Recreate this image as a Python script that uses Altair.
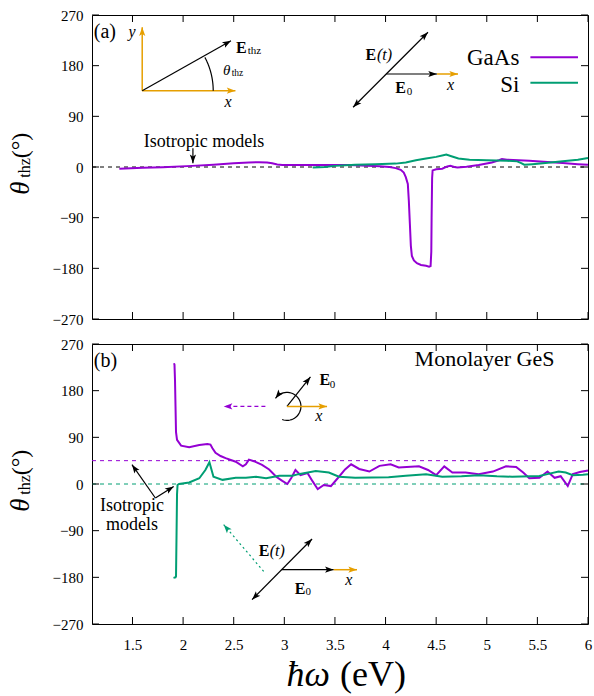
import altair as alt
import numpy as np
import pandas as pd

# ---------------- data ----------------
x_ticks = [1.5, 2.0, 2.5, 3.0, 3.5, 4.0, 4.5, 5.0, 5.5, 6.0]
y_ticks = [-270, -180, -90, 0, 90, 180, 270]

# panel (a): GaAs (purple)
gaas_E = [1.37, 1.6, 1.8, 2.09, 2.3, 2.5, 2.65, 2.75, 2.83, 2.88, 2.93, 2.98, 3.2, 3.44,
          3.64, 3.94, 4.04, 4.1, 4.15, 4.18, 4.2, 4.22, 4.23, 4.24, 4.25, 4.26, 4.28, 4.31,
          4.35, 4.4, 4.43, 4.445, 4.452, 4.455, 4.46, 4.465, 4.5, 4.56, 4.61, 4.64, 4.68,
          4.71, 4.8, 4.92, 5.05, 5.12, 5.15, 5.2, 5.42, 5.6, 5.75, 5.9, 6.0]
gaas_th = [-3, -1.5, -0.5, 2, 4, 6.5, 8, 8.5, 8, 6.5, 4.5, 3.5, 3.5, 3.5,
           3.5, 1.5, 0, -2, -5, -10, -18, -30, -60, -100, -140, -158, -166, -171,
           -174, -175.5, -177, -176, -150, -90, -20, -6, -4, -3, 1, 2, 0,
           -1, 0.5, 3.5, 8, 12, 14, 13, 11, 9, 7, 5, 4]
# panel (a): Si (green)
si_E = [3.28, 3.4, 3.5, 3.7, 3.9, 4.1, 4.2, 4.3, 4.4, 4.5, 4.57, 4.6, 4.65, 4.72, 4.83,
        5.0, 5.2, 5.3, 5.34, 5.37, 5.45, 5.58, 5.75, 5.9, 6.0]
si_th = [-1, 0, 2, 4, 5, 6, 8, 12, 15, 18, 21, 22, 19, 15, 13,
         12, 11, 10, 7, 4, 5, 7, 10, 13, 16]

# panel (b): monolayer GeS, purple curve
gesp_E = [1.91, 1.915, 1.92, 1.925, 1.93, 1.94, 1.98, 2.06, 2.16, 2.24, 2.27, 2.29, 2.32,
          2.37, 2.42, 2.52, 2.59, 2.62, 2.65, 2.7, 2.78, 2.85, 2.92, 2.98, 3.03, 3.07,
          3.11, 3.16, 3.23, 3.28, 3.33, 3.39, 3.46, 3.54, 3.6, 3.66, 3.74, 3.84, 3.94,
          4.05, 4.13, 4.33, 4.42, 4.5, 4.58, 4.66, 4.79, 4.92, 5.06, 5.19, 5.29, 5.36,
          5.42, 5.52, 5.6, 5.67, 5.73, 5.8, 5.85, 5.92, 6.0]
gesp_th = [233, 230, 200, 150, 100, 85, 74, 71, 75, 77, 76, 69, 60,
           54, 50, 43, 34, 38, 47, 44, 37, 28, 14, 6, 0, 12,
           27, 17, 21, 5, -10, -2, -4, 14, 28, 38, 29, 24, 35,
           38, 32, 34, 27, 17, 34, 22, 22, 19, 24, 34, 33, 22,
           11, 12, 24, 12, 15, -4, 19, 23, 26]
# panel (b): monolayer GeS, green curve
gesg_E = [1.905, 1.925, 1.93, 1.935, 1.94, 1.945, 1.96, 2.06, 2.16, 2.22, 2.26, 2.3, 2.39,
          2.52, 2.62, 2.72, 2.82, 2.95, 3.08, 3.14, 3.31, 3.44, 3.54, 3.7, 4.03, 4.2,
          4.4, 4.56, 4.75, 4.92, 5.1, 5.25, 5.52, 5.62, 5.71, 5.78, 5.85, 5.95, 6.0]
gesg_th = [-181, -180, -178, -100, -20, -2, 0, 3, 11, 27, 42, 14, 8,
           12, 12, 14, 11, 16, 16, 19, 25, 22, 14, 12, 13, 16,
           19, 14, 15, 17, 15, 14, 15.5, 20, 24, 22, 17, 18, 19]
iso_purple_b = 45
iso_green_b = 0

# ---------------- style ----------------
PURPLE = "#9400d3"
GREEN = "#009e73"
ORANGE = "#e69f00"
FONT = "Liberation Serif"
W, HA, HB = 496, 304, 280
PXE = W / 4.9
PXT_A = HA / 540.0
PXT_B = HB / 540.0
HEAD = "M0,0L-0.36,1L0,0.78L0.36,1Z"

XS = alt.Scale(domain=[1.1, 6.0], nice=False, zero=False)
YS = alt.Scale(domain=[-270, 270], nice=False, zero=False)

yaxis = alt.Axis(values=y_ticks, format="d", labelFont=FONT, labelFontSize=15,
                 labelColor="black", ticks=False, domain=False, grid=False,
                 labelPadding=9, labelFlush=False, title=None)
xaxis = alt.Axis(values=x_ticks, format="~g", labelFont=FONT, labelFontSize=15,
                 labelColor="black", ticks=False, domain=False, grid=False,
                 labelPadding=13, labelFlush=False, title=None)

CUR = {"x": None, "y": yaxis}


def xe():
    return alt.X("E:Q", scale=XS, axis=CUR["x"])


def ye():
    return alt.Y("th:Q", scale=YS, axis=CUR["y"])


def series(E, th, color, width=2.0):
    df = pd.DataFrame({"E": E, "th": th, "i": list(range(len(E)))})
    return alt.Chart(df).mark_line(color=color, strokeWidth=width).encode(
        x=xe(), y=ye(), order="i:Q")


def hline(val, color, dash, width=1.0, x0=1.1, x1=6.0):
    df = pd.DataFrame({"E": [x0], "E2": [x1], "th": [val]})
    return alt.Chart(df).mark_rule(color=color, strokeDash=dash, strokeWidth=width).encode(
        x=xe(), x2="E2:Q", y=ye())


def text(E, th, s, size, align="center", style="normal", weight="normal", color="black"):
    df = pd.DataFrame({"E": [E], "th": [th], "s": [s]})
    return alt.Chart(df).mark_text(font=FONT, fontSize=size, align=align, baseline="middle",
                                   fontStyle=style, fontWeight=weight, color=color).encode(
        x=xe(), y=ye(), text="s:N")


def heads(pts, color):
    df = pd.DataFrame(pts, columns=["E", "th", "a"])
    return alt.Chart(df).mark_point(shape=HEAD, filled=True, size=300, color=color,
                                    opacity=1, strokeWidth=0).encode(
        x=xe(), y=ye(), angle=alt.Angle("a:Q", scale=None))


def arrow(E0, th0, E1, th1, pxt, color="black", dash=None, both=False, width=1.2):
    df = pd.DataFrame({"E": [E0], "th": [th0], "E2": [E1], "th2": [th1]})
    kw = dict(color=color, strokeWidth=width)
    if dash:
        kw["strokeDash"] = dash
    line = alt.Chart(df).mark_rule(**kw).encode(x=xe(), y=ye(), x2="E2:Q", y2="th2:Q")
    a = (np.degrees(np.arctan2((E1 - E0) * PXE, (th1 - th0) * pxt)) + 360) % 360
    pts = [(E1, th1, a)]
    if both:
        pts.append((E0, th0, (a + 180) % 360))
    return [line, heads(pts, color)]


def arc(Ec, thc, r, a0, a1, pxt, head=False, color="black"):
    ang = np.radians(np.linspace(a0, a1, 40))
    E = Ec + r * np.cos(ang) / PXE
    th = thc + r * np.sin(ang) / pxt
    df = pd.DataFrame({"E": E, "th": th, "i": list(range(len(E)))})
    out = [alt.Chart(df).mark_line(color=color, strokeWidth=1.2).encode(
        x=xe(), y=ye(), order="i:Q")]
    if head:
        dx = (E[-1] - E[-2]) * PXE
        dy = (th[-1] - th[-2]) * pxt
        a = (np.degrees(np.arctan2(dx, dy)) + 360) % 360
        out.append(heads([(E[-1], th[-1], a)], color))
    return out


def ticks(H):
    xt = pd.DataFrame({"E": x_ticks})
    yt = pd.DataFrame({"th": y_ticks})
    L = 7
    kw = dict(color="black", strokeWidth=1)
    return [
        alt.Chart(xt).mark_rule(**kw).encode(x=xe(), y=alt.value(0), y2=alt.value(L)),
        alt.Chart(xt).mark_rule(**kw).encode(x=xe(), y=alt.value(H), y2=alt.value(H - L)),
        alt.Chart(yt).mark_rule(**kw).encode(y=ye(), x=alt.value(0), x2=alt.value(L)),
        alt.Chart(yt).mark_rule(**kw).encode(y=ye(), x=alt.value(W), x2=alt.value(W - L)),
    ]


def ytitle(cy):
    mk = lambda s, size, style, dx, dy: alt.Chart(pd.DataFrame({"s": [s]})).mark_text(
        font=FONT, fontSize=size, fontStyle=style, angle=270, align="center",
        baseline="middle", color="black").encode(
        x=alt.value(dx), y=alt.value(cy + dy), text="s:N")
    return [mk("θ", 27, "italic", -71, 21), mk("thz", 16, "normal", -67, 1),
            mk("(°)", 24, "normal", -71, -21.5)]


# ---------------- panel (a) ----------------
CUR["x"] = None
CUR["y"] = yaxis
la = [hline(0, "black", [4, 4], 1.0)]
la += ticks(HA)
la += [series(gaas_E, gaas_th, PURPLE), series(si_E, si_th, GREEN)]
# inset 1: frame
la += arrow(1.596, 135.5, 1.596, 248.1, PXT_A, ORANGE, width=1.5)
la += arrow(1.596, 135.5, 2.517, 135.5, PXT_A, ORANGE, width=1.5)
la += arrow(1.596, 135.5, 2.473, 224.4, PXT_A, "black")
la += arc(1.596, 135.5, 71, 0, 28, PXT_A)
la += [text(1.117, 240.3, "(a)", 20, "left"),
       text(1.495, 240.3, "y", 16, style="italic"),
       text(2.444, 116, "x", 16, style="italic"),
       text(2.523, 210.8, "E", 16, "left", weight="bold"),
       text(2.638, 206.6, "thz", 11, "left"),
       text(2.394, 172.3, "θ", 15, "left", style="italic"),
       text(2.48, 166.4, "thz", 9.5, "left")]
# isotropic label
la += [text(2.206, 45, "Isotropic models", 18)]
la += arrow(2.097, 33.3, 2.097, 6.6, PXT_A, "black")
# inset 2: E(t)
la += arrow(3.679, 106.1, 4.419, 239.3, PXT_A, "black", both=True)
la += arrow(4.008, 165.2, 4.508, 165.2, PXT_A, "black")
la += arrow(4.508, 165.2, 4.716, 165.2, PXT_A, ORANGE, width=1.5)
la += [text(3.801, 199, "E", 16, "left", weight="bold"),
       text(3.915, 199, "(t)", 16, "left", style="italic"),
       text(4.097, 139.8, "E", 16, "left", weight="bold"),
       text(4.21, 133.9, "0", 11, "left"),
       text(4.641, 145.7, "x", 16, style="italic")]
# legend
la += [text(5.322, 193, "GaAs", 23, "right"), text(5.322, 145.7, "Si", 23, "right"),
       hline(194.9, PURPLE, [1, 0], 2.0, 5.431, 5.901),
       hline(149.8, GREEN, [1, 0], 2.0, 5.431, 5.901)]
la += ytitle(152)

panel_a = alt.layer(*la).properties(width=W, height=HA)

# ---------------- panel (b) ----------------
CUR["x"] = xaxis
CUR["y"] = yaxis
lb = [hline(iso_purple_b, PURPLE, [4, 4], 1.0), hline(iso_green_b, GREEN, [4, 4], 1.0)]
lb += ticks(HB)
lb += [series(gesp_E, gesp_th, PURPLE), series(gesg_E, gesg_th, GREEN)]
lb += [text(1.117, 236.4, "(b)", 20, "left"),
       text(5.669, 241, "Monolayer GeS", 22, "right")]
# circular inset
lb += arrow(2.813, 149.7, 2.401, 149.7, PXT_B, PURPLE, dash=[4, 3])
lb += arc(3.026, 149.7, 14, -110, 145, PXT_B, head=True)
lb += arrow(3.026, 149.7, 3.258, 206.4, PXT_B, "black")
lb += arrow(3.026, 149.7, 3.422, 149.7, PXT_B, ORANGE, width=1.5)
lb += [text(3.347, 199.8, "E", 16, "left", weight="bold"),
       text(3.448, 191.5, "0", 11, "left"),
       text(3.34, 130.4, "x", 16, style="italic")]
# linear inset
lb += arrow(2.796, -168.6, 2.401, -78.5, PXT_B, GREEN, dash=[2, 3])
lb += arrow(2.681, -223.1, 3.274, -106.1, PXT_B, "black", both=True)
lb += arrow(2.974, -165.3, 3.488, -165.3, PXT_B, "black")
lb += arrow(3.488, -165.3, 3.718, -165.3, PXT_B, ORANGE, width=1.5)
lb += [text(2.747, -130, "E", 16, "left", weight="bold"),
       text(2.855, -130, "(t)", 16, "left", style="italic"),
       text(3.103, -202.5, "E", 16, "left", weight="bold"),
       text(3.21, -209, "0", 11, "left"),
       text(3.636, -184.6, "x", 16, style="italic")]
# isotropic labels
lb += [text(1.495, -43.2, "Isotropic", 18), text(1.495, -78.5, "models", 18)]
lb += arrow(1.726, -27, 1.495, 37.2, PXT_B, "black")
lb += arrow(1.726, -27, 1.907, -4.6, PXT_B, "black")
lb += ytitle(140)
# x title
lb += [alt.Chart(pd.DataFrame({"s": ["ħω"]})).mark_text(
           font=FONT, fontSize=36, fontStyle="italic", align="right", baseline="middle",
           color="black").encode(x=alt.value(238), y=alt.value(HB + 51), text="s:N"),
       alt.Chart(pd.DataFrame({"s": ["(eV)"]})).mark_text(
           font=FONT, fontSize=36, align="left", baseline="middle",
           color="black").encode(x=alt.value(248), y=alt.value(HB + 51), text="s:N")]

panel_b = alt.layer(*lb).properties(width=W, height=HB)

chart = alt.vconcat(panel_a, panel_b, spacing=25, bounds="flush").properties(
    padding={"left": 6, "top": 7, "right": 0, "bottom": 0},
    background="white",
).configure_view(stroke="black", strokeWidth=1)

chart.save("out.html", embed_options={"renderer": "svg", "actions": False})
